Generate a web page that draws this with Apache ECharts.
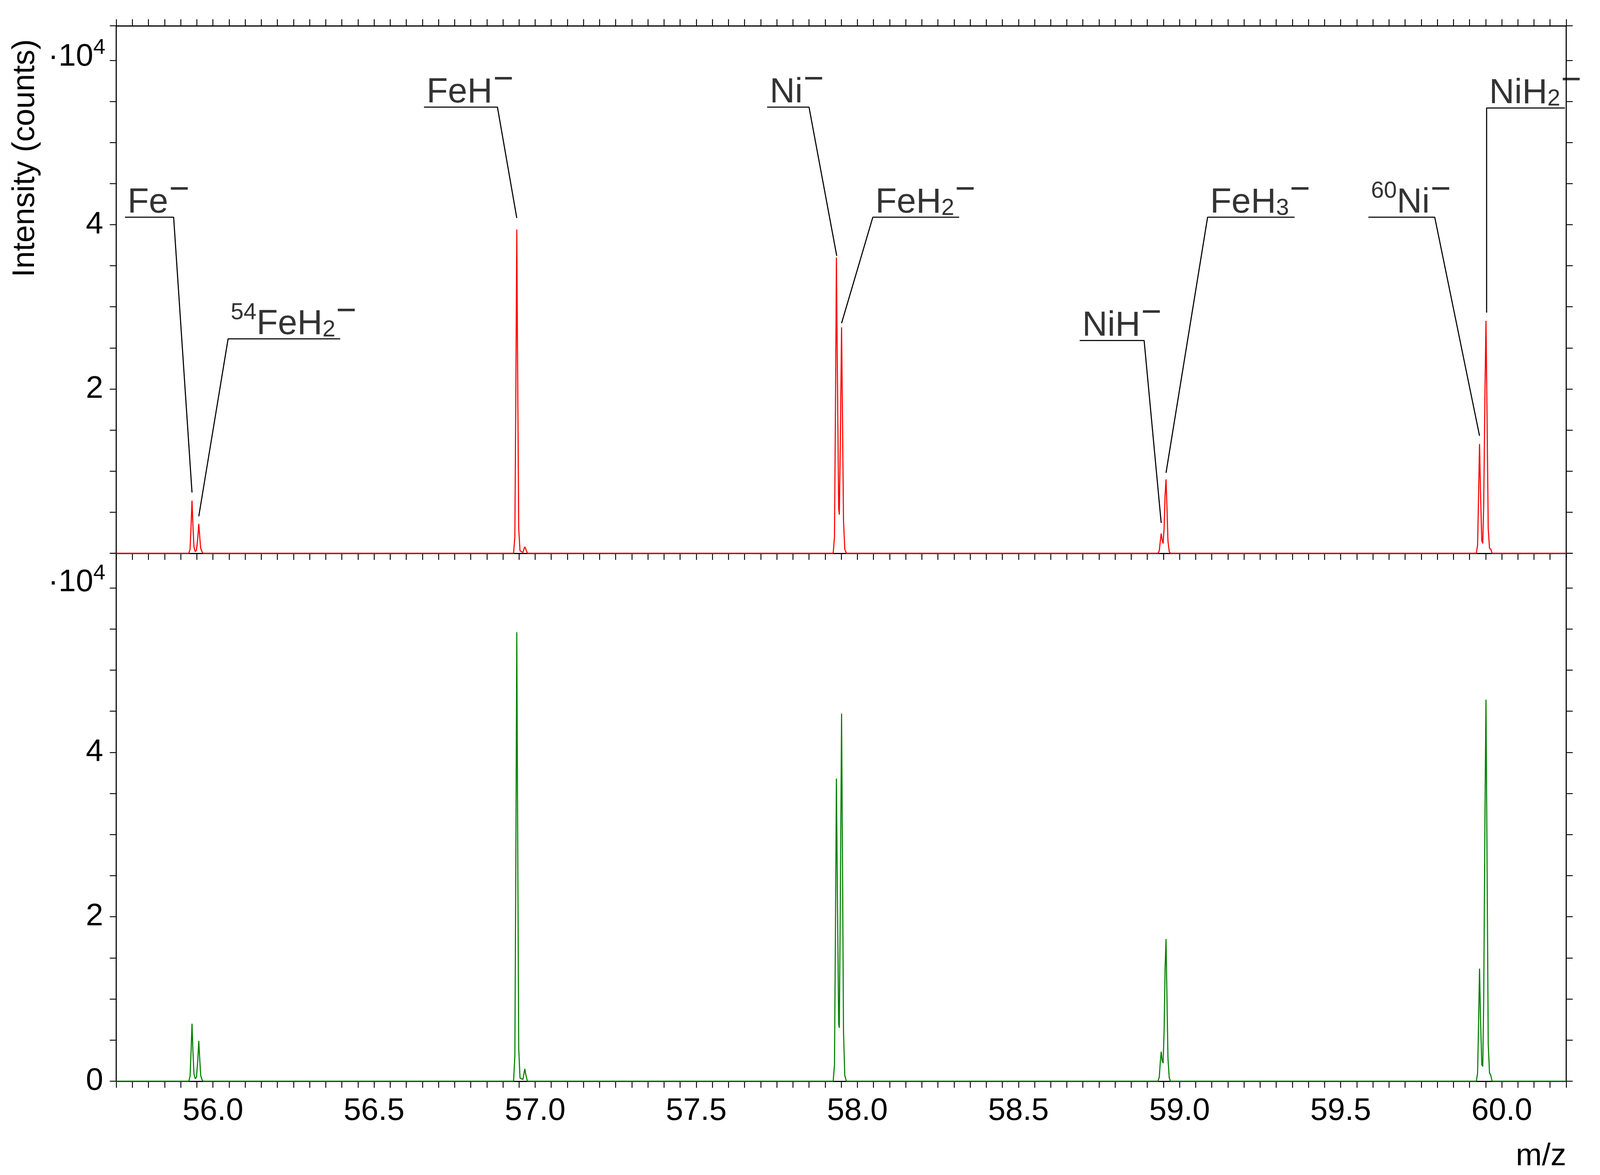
<!DOCTYPE html>
<html><head><meta charset="utf-8">
<script src="https://cdn.jsdelivr.net/npm/echarts@6/dist/echarts.min.js"></script>
<style>html,body{margin:0;padding:0;background:#fff;overflow:hidden}#c{width:100vw;height:100vh}</style>
</head><body><div id="c"></div>
<script>
// m/z, intensity (x10^4) — upper spectrum (red)
const upperSpectrum = [
 [55.70,0],[55.925,0],[55.929,0.05],[55.932,0.32],[55.935,0.64],[55.938,0.33],[55.941,0.08],[55.945,0.02],[55.949,0.04],[55.953,0.19],[55.956,0.36],[55.959,0.2],[55.962,0.06],[55.966,0.02],[55.970,0],
 [56.933,0],[56.937,0.2],[56.940,1.9],[56.943,3.94],[56.946,2.0],[56.949,0.3],[56.953,0.03],[56.962,0.01],[56.966,0.06],[56.968,0.08],[56.971,0.05],[56.976,0],
 [57.925,0],[57.929,0.2],[57.932,1.7],[57.935,3.6],[57.938,2.2],[57.942,0.55],[57.944,0.47],[57.947,1.3],[57.951,2.75],[57.954,1.6],[57.957,0.4],[57.961,0.05],[57.966,0],
 [58.933,0],[58.937,0.03],[58.940,0.14],[58.943,0.24],[58.946,0.16],[58.949,0.12],[58.952,0.3],[58.955,0.7],[58.958,0.9],[58.961,0.55],[58.964,0.15],[58.968,0.02],[58.972,0],
 [59.921,0],[59.925,0.1],[59.928,0.7],[59.931,1.33],[59.934,0.75],[59.938,0.15],[59.941,0.12],[59.944,0.6],[59.948,2.0],[59.951,2.83],[59.954,1.8],[59.958,0.3],[59.962,0.06],[59.966,0.05],[59.970,0],[60.20,0]
];
// lower spectrum (green)
const lowerSpectrum = [
 [55.70,0],[55.925,0],[55.929,0.06],[55.932,0.35],[55.935,0.70],[55.938,0.36],[55.941,0.09],[55.945,0.03],[55.949,0.05],[55.953,0.26],[55.956,0.49],[55.959,0.27],[55.962,0.07],[55.966,0.02],[55.970,0],
 [56.933,0],[56.937,0.3],[56.940,2.6],[56.943,5.46],[56.946,2.8],[56.949,0.4],[56.953,0.04],[56.962,0.02],[56.966,0.11],[56.968,0.15],[56.971,0.08],[56.976,0],
 [57.925,0],[57.929,0.2],[57.932,1.8],[57.935,3.68],[57.938,2.3],[57.942,0.7],[57.944,0.65],[57.947,2.1],[57.951,4.47],[57.954,2.6],[57.957,0.6],[57.961,0.07],[57.966,0],
 [58.933,0],[58.937,0.05],[58.940,0.22],[58.943,0.36],[58.946,0.25],[58.949,0.22],[58.952,0.6],[58.955,1.35],[58.958,1.73],[58.961,1.0],[58.964,0.28],[58.968,0.04],[58.972,0],
 [59.921,0],[59.925,0.1],[59.928,0.7],[59.931,1.37],[59.934,0.78],[59.938,0.2],[59.941,0.18],[59.944,1.0],[59.948,3.3],[59.951,4.64],[59.954,2.9],[59.958,0.45],[59.962,0.1],[59.966,0.07],[59.970,0],[60.20,0]
];
// annotation labels (rich text) and leader paths in data units
const annLabels = [
 '{m|Fe}{sup|−}',
 '{s2|54}{m|FeH}{sub|2}{sup|−}',
 '{m|FeH}{sup|−}',
 '{m|Ni}{sup|−}',
 '{m|FeH}{sub|2}{sup|−}',
 '{m|NiH}{sup|−}',
 '{m|FeH}{sub|3}{sup|−}',
 '{s2|60}{m|Ni}{sup|−}',
 '{m|NiH}{sub|2}{sup|−}'
];
const annPaths = [
 [[55.727,4.09],[55.878,4.09],[55.935,0.74]],
 [[56.395,2.61],[56.047,2.61],[55.956,0.45]],
 [[56.655,5.43],[56.883,5.43],[56.943,4.08]],
 [[57.720,5.43],[57.850,5.43],[57.936,3.62]],
 [[58.316,4.09],[58.048,4.09],[57.951,2.80]],
 [[58.690,2.59],[58.890,2.59],[58.943,0.37]],
 [[59.357,4.09],[59.087,4.09],[58.958,0.98]],
 [[59.586,4.09],[59.792,4.09],[59.931,1.43]],
 [[60.196,5.42],[59.953,5.42],[59.953,2.93]]
];
const xTickLabels = ['56.0','56.5','57.0','57.5','58.0','58.5','59.0','59.5','60.0'];
const yTickLabels = ['0','2','4'];

const FONT = 'Liberation Sans, Arial, sans-serif';
const el = document.getElementById('c');
const chart = echarts.init(el);
const W = chart.getWidth(), H = chart.getHeight();
const sx = W/4403, sy = H/3007, s = Math.min(sx, sy);
const X = v => v*sx, Y = v => v*sy, S = v => v*s;
const isLabelX = v => xTickLabels.indexOf(v.toFixed(1)) >= 0 && Math.abs(v*2 - Math.round(v*2)) < 1e-6;
const isLabelY = v => yTickLabels.indexOf(String(v)) >= 0;
function xAx(gi, pos, labels){
  return {type:'value', gridIndex:gi, position:pos, min:55.7, max:60.2, interval:0.05,
    axisLine:{show:true,onZero:false,lineStyle:{color:'#000',width:S(3)}},
    axisTick:{show:true,inside:false,length:S(18),lineStyle:{color:'#000',width:S(2.5)}},
    splitLine:{show:false},
    axisLabel:{show:labels, margin:S(40), fontSize:S(86), color:'#000', fontFamily:FONT,
      formatter:v=>isLabelX(v)?v.toFixed(1):''}};
}
function yAx(gi, pos, labels, showZero){
  return {type:'value', gridIndex:gi, position:pos, min:0, max:6.42, interval:0.5,
    axisLine:{show:true,onZero:false,lineStyle:{color:'#000',width:S(3)}},
    axisTick:{show:true,inside:false,length:S(18),lineStyle:{color:'#000',width:S(2.5)}},
    splitLine:{show:false},
    axisLabel:{show:labels, margin:S(36), fontSize:S(86), color:'#000', fontFamily:FONT,
      formatter:v=>(isLabelY(v)&&(showZero||v!==0))?String(v):''}};
}
const rich = {
  m:{fontSize:S(96), fontFamily:FONT, color:'#000', lineHeight:S(130), verticalAlign:'bottom'},
  sup:{fontSize:S(96), fontFamily:FONT, color:'#000', lineHeight:S(130), verticalAlign:'top', padding:[0,0,0,S(2)]},
  s2:{fontSize:S(64), fontFamily:FONT, color:'#000', lineHeight:S(130), verticalAlign:'top', padding:[S(18),0,0,0]},
  sub:{fontSize:S(64), fontFamily:FONT, color:'#000', lineHeight:S(130), verticalAlign:'bottom', padding:[0,0,0,0]}
};
const series = [
 {type:'line', xAxisIndex:0, yAxisIndex:0, data:upperSpectrum, showSymbol:false, lineStyle:{color:'#ff0000',width:S(3)}, z:3},
 {type:'line', xAxisIndex:2, yAxisIndex:2, data:lowerSpectrum, showSymbol:false, lineStyle:{color:'#008000',width:S(3)}, z:3}
];
annPaths.forEach((p,i)=>{
  series.push({type:'line', xAxisIndex:0, yAxisIndex:0, data:p, showSymbol:false, silent:true,
    lineStyle:{color:'#000',width:S(3)}, z:4});
  const left = Math.min(p[0][0], p[1][0]);
  series.push({type:'scatter', xAxisIndex:0, yAxisIndex:0, data:[[left+0.008, p[0][1]]], symbolSize:0, silent:true,
    label:{show:true, position:[0,S(8)], align:'left', verticalAlign:'bottom', formatter:annLabels[i], rich:rich}, z:5});
});
chart.setOption({
  backgroundColor:'#fff', animation:false,
  grid:[{left:X(320), right:X(93), top:Y(66), height:Y(1350)},{left:X(320), right:X(93), top:Y(1416), height:Y(1351)}],
  xAxis:[xAx(0,'bottom',false), xAx(0,'top',false), xAx(1,'bottom',true)],
  yAxis:[yAx(0,'left',true,false), yAx(0,'right',false,false), yAx(1,'left',true,true), yAx(1,'right',false,false)],
  series:series,
  graphic:[
    {type:'text', x:X(290), y:Y(95), style:{text:'·10{e|4}', align:'right', fontSize:S(86), fontFamily:FONT, fill:'#000',
      rich:{e:{fontSize:S(60), verticalAlign:'top', lineHeight:S(110), fontFamily:FONT}}}},
    {type:'text', x:X(290), y:Y(1440), style:{text:'·10{e|4}', align:'right', fontSize:S(86), fontFamily:FONT, fill:'#000',
      rich:{e:{fontSize:S(60), verticalAlign:'top', lineHeight:S(110), fontFamily:FONT}}}},
    {type:'text', x:X(70), y:Y(405), rotation:Math.PI/2, style:{text:'Intensity (counts)', fontSize:S(86), fontFamily:FONT, fill:'#000', align:'center', verticalAlign:'middle'}},
    {type:'text', x:X(4310), y:Y(2920), style:{text:'m/z', align:'right', fontSize:S(86), fontFamily:FONT, fill:'#000'}}
  ]
});
</script></body></html>
